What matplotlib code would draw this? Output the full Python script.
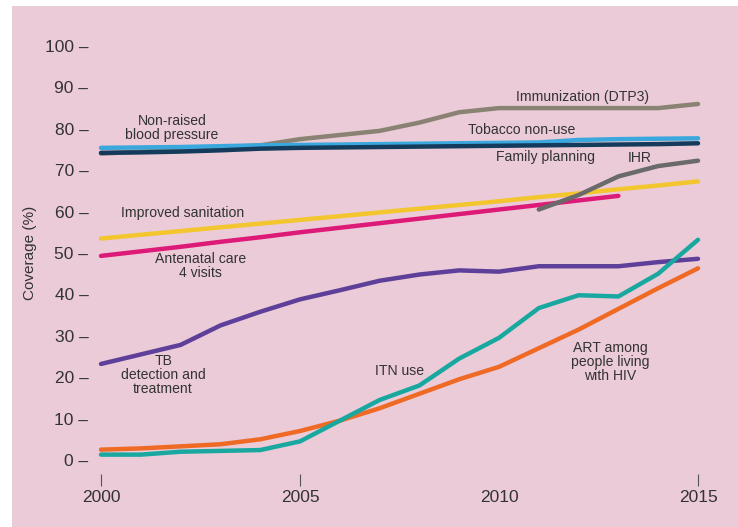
import numpy as np
import matplotlib
matplotlib.use("Agg")
import matplotlib.pyplot as plt
from matplotlib.patches import Rectangle

plt.rcParams['font.family'] = ['Liberation Sans Narrow', 'Liberation Sans', 'DejaVu Sans']

years = np.arange(2000, 2016)

# coverage (%)
immunization = [74, 74.5, 75, 75.5, 76, 77.5, 78.5, 79.5, 81.5, 84, 85, 85, 85, 85, 85, 86]
blood_pressure = [75.4, 75.5, 75.6, 75.8, 76, 76.1, 76.2, 76.3, 76.4, 76.5, 76.6, 76.7, 77.3, 77.5, 77.6, 77.7]
family_planning = [74.2, 74.3, 74.5, 74.8, 75.2, 75.4, 75.5, 75.6, 75.7, 75.8, 75.9, 76, 76.1, 76.2, 76.3, 76.5]
sanitation = [53.5, 54.4, 55.3, 56.2, 57.1, 58.0, 58.9, 59.8, 60.7, 61.6, 62.5, 63.5, 64.4, 65.4, 66.3, 67.3]
antenatal_years = np.arange(2000, 2014)
antenatal = [49.3, 50.4, 51.5, 52.7, 53.8, 55.0, 56.1, 57.2, 58.3, 59.4, 60.5, 61.6, 62.7, 63.8]
ihr_years = np.arange(2011, 2016)
ihr = [60.5, 64, 68.5, 71, 72.3]
tb = [23.2, 25.5, 27.8, 32.5, 35.8, 38.8, 41, 43.3, 44.8, 45.8, 45.5, 46.8, 46.8, 46.8, 47.8, 48.6]
itn = [1.3, 1.3, 2, 2.2, 2.4, 4.5, 9.5, 14.5, 18, 24.5, 29.5, 36.7, 39.8, 39.5, 45, 53.2]
art = [2.5, 2.8, 3.3, 3.8, 5, 7, 9.5, 12.5, 16, 19.5, 22.5, 27, 31.5, 36.5, 41.5, 46.3]

fig = plt.figure(figsize=(7.38, 5.27), dpi=100, facecolor='white')
fig.patches.append(Rectangle((12/738, 0), 1, 1 - 6/527, transform=fig.transFigure,
                             facecolor='#EACBD7', edgecolor='none', zorder=-10))

ax = fig.add_axes([101/738, (527-460)/527, 597/738, 414/527])
ax.set_facecolor('none')
ax.set_xlim(2000, 2015)
ax.set_ylim(0, 100)
for s in ax.spines.values():
    s.set_visible(False)

lw = 3.2
kw = dict(lw=lw, solid_capstyle='round', clip_on=False)
ax.plot(years, immunization, color='#8A8272', **kw)
ax.plot(years, blood_pressure, color='#3AA7DD', **kw)
ax.plot(years, family_planning, color='#143B5C', **kw)
ax.plot(years, sanitation, color='#F3C52F', **kw)
ax.plot(antenatal_years, antenatal, color='#DD1A78', **kw)
ax.plot(ihr_years, ihr, color='#6A6A6A', **kw)
ax.plot(years, tb, color='#5E3F99', **kw)
ax.plot(years, art, color='#EE6A25', **kw)
ax.plot(years, itn, color='#19A8A0', **kw)

tc = '#333333'
lab = dict(color=tc, fontsize=10.1, ha='center', va='center', linespacing=1.0)
ax.text(2012.1, 87.7, 'Immunization (DTP3)', **lab)
ax.text(2010.58, 79.7, 'Tobacco non-use', **lab)
ax.text(2011.18, 73.2, 'Family planning', **lab)
ax.text(2013.54, 72.9, 'IHR', **lab)
ax.text(2001.78, 80.2, 'Non-raised\nblood pressure', **lab)
ax.text(2002.06, 59.7, 'Improved sanitation', **lab)
ax.text(2002.49, 46.9, 'Antenatal care\n4 visits', **lab)
ax.text(2001.56, 20.5, 'TB\ndetection and\ntreatment', **lab)
ax.text(2007.49, 21.5, 'ITN use', **lab)
ax.text(2012.79, 23.7, 'ART among\npeople living\nwith HIV', **lab)

yt = np.arange(0, 101, 10)
ax.set_yticks(yt)
ax.set_yticklabels([f'{v} \u2013' for v in yt])
ax.tick_params(axis='y', length=0, pad=9, labelsize=12.5, labelcolor=tc)

ax.spines['bottom'].set_position(('outward', 10))
ax.set_xticks([2000, 2005, 2010, 2015])
ax.tick_params(axis='x', length=8.5, width=0.8, color='#555555', pad=3,
               labelsize=12.5, labelcolor=tc)
ax.xaxis.get_major_ticks()[2].tick1line.set_visible(False)

ax.set_ylabel('Coverage (%)', fontsize=11, color=tc, labelpad=6)

fig.savefig('out.png', dpi=100, facecolor=fig.get_facecolor())
